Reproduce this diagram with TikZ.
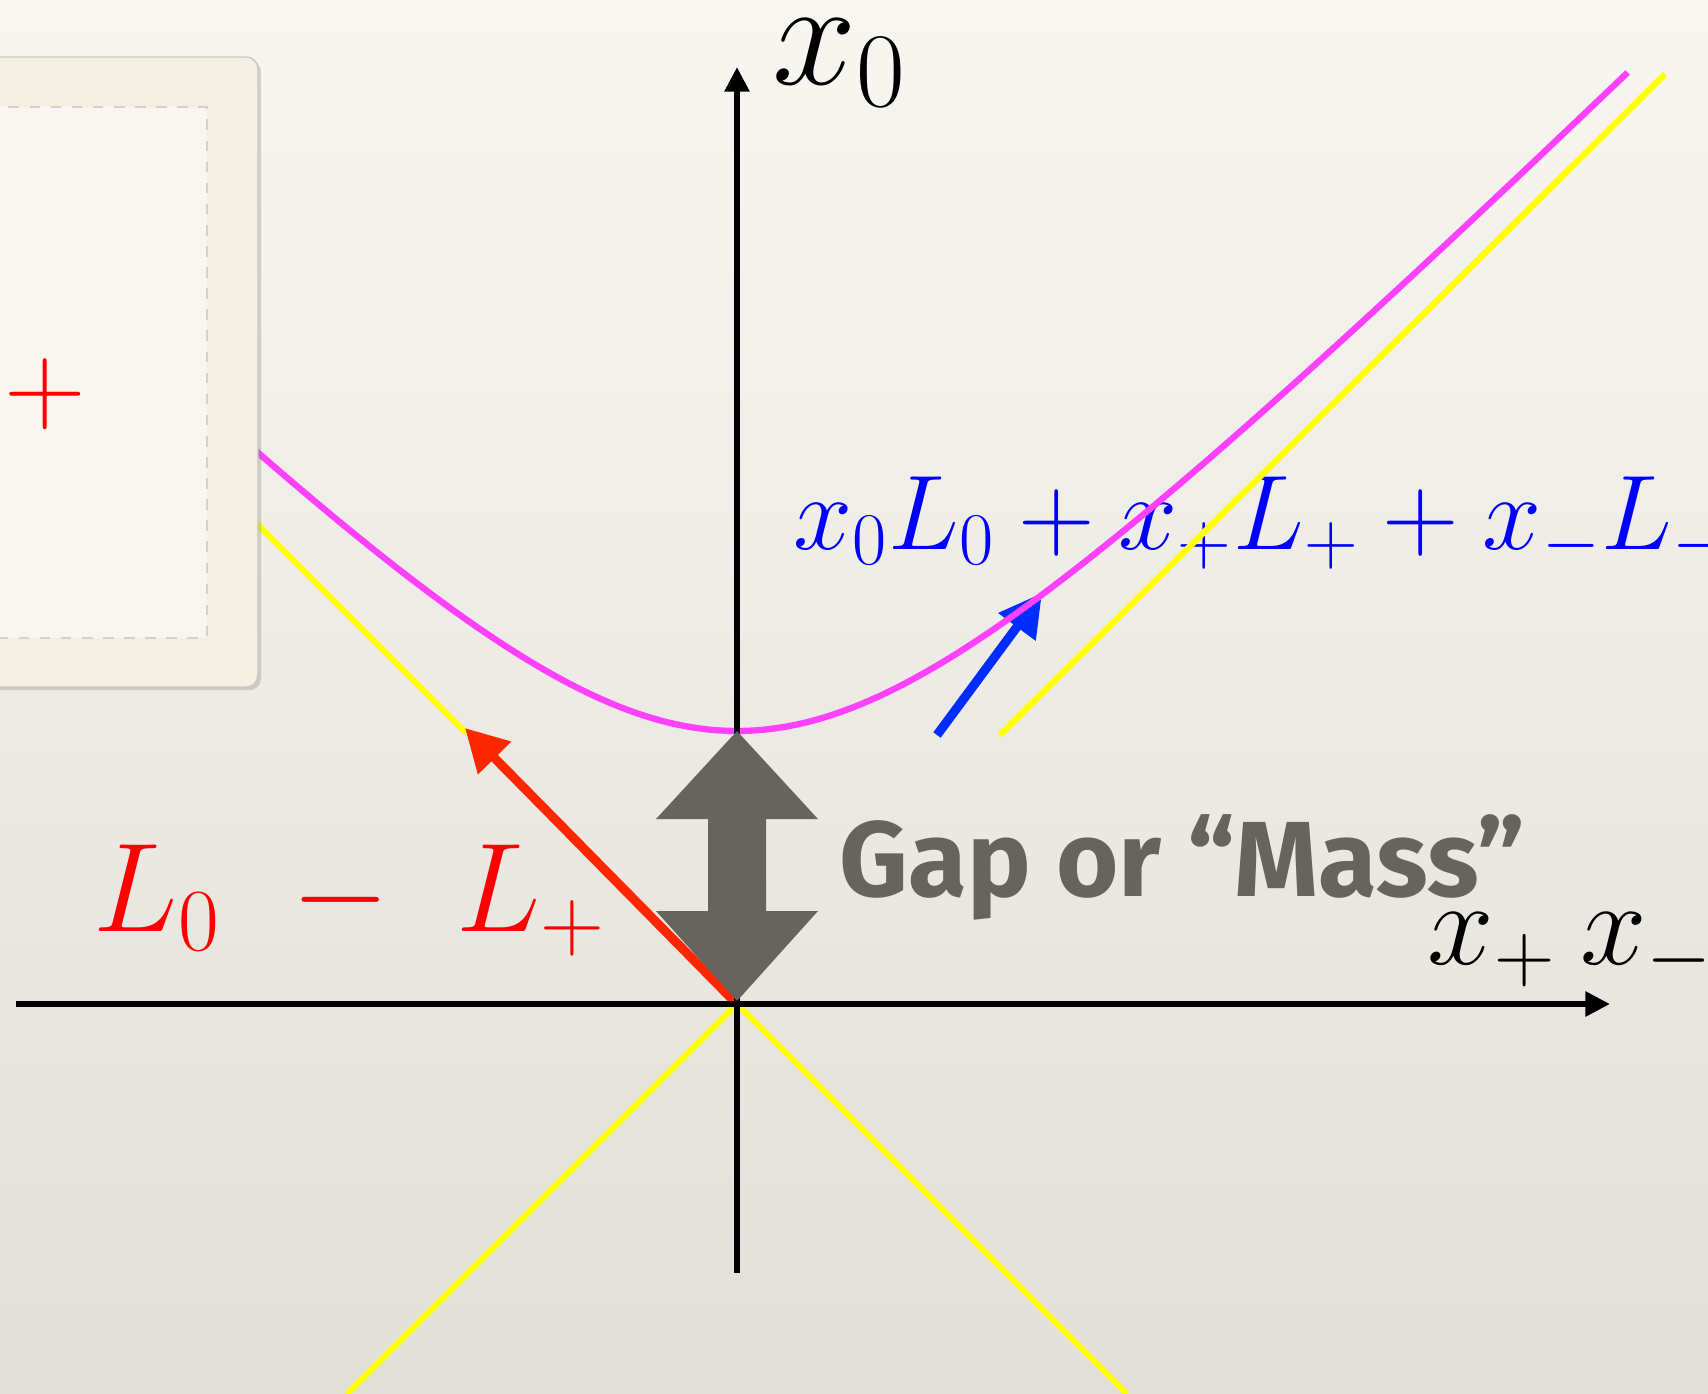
\RequirePackage{fix-cm}
\documentclass[tikz,border=0pt]{standalone}
\usepackage{fontspec}
\newfontfamily\gapfont{Fira Sans}
\usetikzlibrary{arrows.meta,shadows}
\definecolor{mkwpapertop}{RGB}{248,246,240}
\definecolor{mkwpaperbot}{RGB}{226,223,217}
\definecolor{mkwframe}{RGB}{243,240,226}
\definecolor{mkwcard}{RGB}{248,246,239}
\definecolor{mkwyellow}{RGB}{255,255,0}
\definecolor{mkwpink}{RGB}{255,64,255}
\definecolor{mkwred}{RGB}{255,38,0}
\definecolor{mkwblue}{RGB}{0,45,255}
\definecolor{mkwtextblue}{RGB}{0,0,255}
\definecolor{mkwgray}{RGB}{103,100,95}
\tikzset{
  axisline/.style={line width=1.7pt, black, -{Triangle[length=7pt, width=6.8pt]}},
  coneline/.style={line width=1.8pt, mkwyellow},
  vecarr/.style={line width=2.6pt, -{Triangle[length=12pt, width=12.6pt]}},
  mlbl/.style={inner sep=0pt, anchor=base west},
}

\begin{document}
\begin{tikzpicture}[x=0.01cm, y=-0.01cm]
        \clip (0,0) rectangle (1708,1393);
        \shade[top color=mkwpapertop, bottom color=mkwpaperbot] (0,0) rectangle (1708,1393);
        \coordinate (O) at (737,1004);
        % formula behind the curves
        \node[mlbl, text=mkwtextblue, font=\fontsize{30.2}{36}\selectfont] (gen) at (793,549) {$x_0L_0+x_+L_++x_-L_-$};
        \coordinate (bfoot) at (937,735);\coordinate (btip) at (1042,593);
        \draw[vecarr, mkwblue] (bfoot)--(btip);
        % light cone
        \coordinate (ll) at (347,1394);\coordinate (lr) at (1127,1394);
        \coordinate (ul0) at (200,467);\coordinate (ul1) at (466,733);
        \coordinate (ur0) at (1000,735);\coordinate (ur1) at (1665,74);
        \draw[coneline] (O)--(ll);\draw[coneline] (O)--(lr);
        \draw[coneline] (ul0)--(ul1);\draw[coneline] (ur0)--(ur1);
        \draw[line width=1.8pt, mkwpink] plot[domain=-1.45:1.9, samples=120, smooth] ({737+273*sinh(\x)},{1004-273*cosh(\x)});
        % card on the left
        \fill[mkwframe, rounded corners=3.4pt, drop shadow={opacity=0.3, shadow xshift=0.9pt, shadow yshift=-0.9pt}] (-20,57) rectangle (258,687);
        \draw[black!22, line width=0.4pt, rounded corners=3.4pt] (-20,57) rectangle (258,687);
        \fill[mkwcard] (-20,107) rectangle (207,638);
        \draw[black!18, dashed, line width=0.3pt] (-20,107) rectangle (207,638);
        \node[mlbl, text=red, font=\fontsize{46}{55}\selectfont] (card) at (-86,398) {$x_+$};
        % vectors and axes
        \coordinate (rtip) at (465,728);
        \draw[vecarr, mkwred] (O)--(rtip);
        \coordinate (xl) at (16,1004);\coordinate (xr) at (1610,1004);
        \coordinate (yb) at (737,1273);\coordinate (yt) at (737,67);
        \draw[axisline] (xl)--(xr);\draw[axisline] (yb)--(yt);
        \fill[mkwgray] (737,731)--(818,819)--(766,819)--(766,911)--(818,911)--(737,1001)--(656,911)--(708,911)--(708,819)--(656,819)--cycle;
        % labels
        \node[mlbl, font=\fontsize{43}{52}\selectfont] (xz) at (772,84) {$x_0$};
        \node[mlbl, font=\fontsize{34}{41}\selectfont] (xpm) at (1427,964) {$x_+\hspace{0.2em}x_-$};
        \node[mlbl, text=red, font=\fontsize{36}{43}\selectfont] (ray) at (93,931) {$L_0\hspace{0.34em}-\hspace{0.3em}L_+$};
        \node[mlbl, text=mkwgray, font=\gapfont\bfseries\fontsize{30.4}{36}\selectfont] (gap) at (839,896) {Gap or “Mass”};
    \end{tikzpicture}
\end{document}
